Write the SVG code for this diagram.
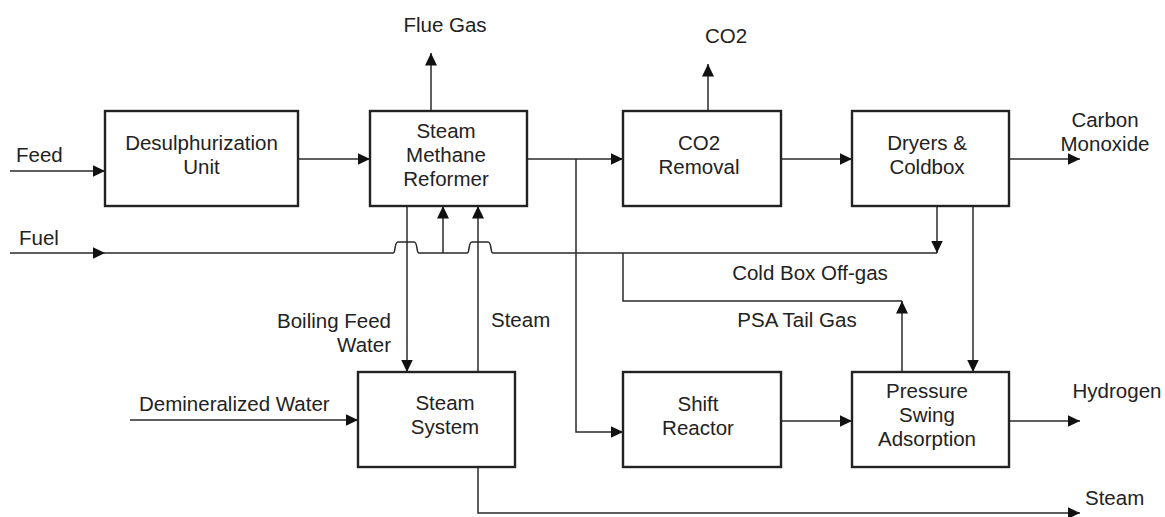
<svg xmlns="http://www.w3.org/2000/svg" width="1165" height="517" viewBox="0 0 1165 517">
<style>
.box{fill:#fff;stroke:#222;stroke-width:2.4}
.ln{fill:none;stroke:#2a2a2a;stroke-width:1.5}
.t{font-family:"Liberation Sans",Arial,sans-serif;font-size:20.5px;fill:#222}
.c{text-anchor:middle}
.e{text-anchor:end}
</style>
<defs>
<marker id="ah" markerUnits="userSpaceOnUse" markerWidth="13" markerHeight="12" refX="12.5" refY="6" orient="auto">
<path d="M0,0 L12.5,6 L0,12 z" fill="#111"/>
</marker>
</defs>
<rect width="1165" height="517" fill="#fff"/>
<g id="connectors">
<path class="ln" d="M10,171 L105,171" marker-end="url(#ah)"/>
<path class="ln" d="M298,159 L370,159" marker-end="url(#ah)"/>
<path class="ln" d="M527,159 L623,159" marker-end="url(#ah)"/>
<path class="ln" d="M576,159 L576,432 L623,432" marker-end="url(#ah)"/>
<path class="ln" d="M781,159 L852,159" marker-end="url(#ah)"/>
<path class="ln" d="M1009,159 L1080,159" marker-end="url(#ah)"/>
<path class="ln" d="M431,111 L431,53" marker-end="url(#ah)"/>
<path class="ln" d="M708,111 L708,64" marker-end="url(#ah)"/>
<path class="ln" d="M10,253 L105,253" marker-end="url(#ah)"/>
<path class="ln" d="M105,253 L393,253 C396,253 394,242 398,242 L414,242 C418,242 416,253 419,253 L467,253 C470,253 468,242 472,242 L488,242 C492,242 490,253 493,253 L937,253"/>
<path class="ln" d="M443,253 L443,206" marker-end="url(#ah)"/>
<path class="ln" d="M937,206 L937,253" marker-end="url(#ah)"/>
<path class="ln" d="M407,206 L407,372" marker-end="url(#ah)"/>
<path class="ln" d="M478,372 L478,206" marker-end="url(#ah)"/>
<path class="ln" d="M623,253 L623,301 L902,301"/>
<path class="ln" d="M902,372 L902,301" marker-end="url(#ah)"/>
<path class="ln" d="M973,206 L973,372" marker-end="url(#ah)"/>
<path class="ln" d="M130,420 L358,420" marker-end="url(#ah)"/>
<path class="ln" d="M781,421 L852,421" marker-end="url(#ah)"/>
<path class="ln" d="M1009,421 L1080,421" marker-end="url(#ah)"/>
<path class="ln" d="M478,467 L478,513 L1080,513" marker-end="url(#ah)"/>
<text class="t" x="16" y="162">Feed</text>
<text class="t" x="19" y="245">Fuel</text>
<text class="t c" x="445" y="32">Flue Gas</text>
<text class="t c" x="726" y="43">CO2</text>
<text class="t c" x="1105" y="127">Carbon</text>
<text class="t c" x="1105" y="151">Monoxide</text>
<text class="t c" x="810" y="280">Cold Box Off-gas</text>
<text class="t c" x="797" y="327">PSA Tail Gas</text>
<text class="t e" x="391" y="328">Boiling Feed</text>
<text class="t e" x="391" y="352">Water</text>
<text class="t" x="491" y="327">Steam</text>
<text class="t" x="139" y="411">Demineralized Water</text>
<text class="t c" x="1117" y="398">Hydrogen</text>
<text class="t" x="1085" y="505">Steam</text>
</g>
<g id="desulphurization">
<rect class="box" x="105" y="111" width="193" height="95"/>
<text class="t c" x="201.5" y="150">Desulphurization</text>
<text class="t c" x="201.5" y="174">Unit</text>
</g>
<g id="smr">
<rect class="box" x="370" y="111" width="157" height="95"/>
<text class="t c" x="446" y="138">Steam</text>
<text class="t c" x="446" y="162">Methane</text>
<text class="t c" x="446" y="186">Reformer</text>
</g>
<g id="co2-removal">
<rect class="box" x="623" y="111" width="158" height="95"/>
<text class="t c" x="699" y="150">CO2</text>
<text class="t c" x="699" y="174">Removal</text>
</g>
<g id="dryers">
<rect class="box" x="852" y="111" width="157" height="95"/>
<text class="t c" x="927" y="150">Dryers &amp;</text>
<text class="t c" x="927" y="174">Coldbox</text>
</g>
<g id="steam-system">
<rect class="box" x="358" y="372" width="157" height="95"/>
<text class="t c" x="445" y="410">Steam</text>
<text class="t c" x="445" y="434">System</text>
</g>
<g id="shift-reactor">
<rect class="box" x="623" y="372" width="158" height="95"/>
<text class="t c" x="698" y="411">Shift</text>
<text class="t c" x="698" y="435">Reactor</text>
</g>
<g id="psa">
<rect class="box" x="852" y="372" width="157" height="95"/>
<text class="t c" x="927" y="398">Pressure</text>
<text class="t c" x="927" y="422">Swing</text>
<text class="t c" x="927" y="446">Adsorption</text>
</g>
</svg>
